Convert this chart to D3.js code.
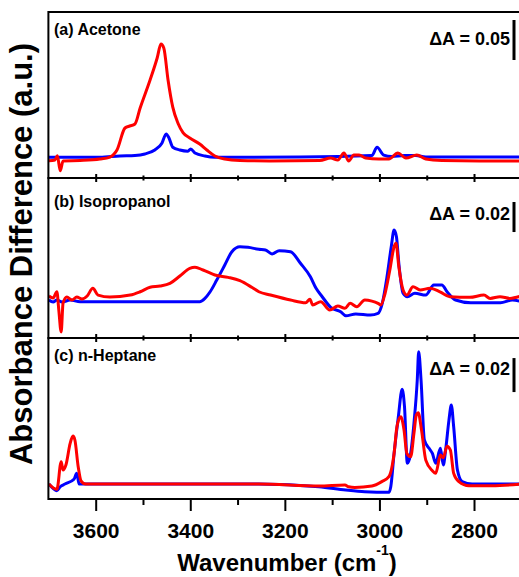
<!DOCTYPE html>
<html>
<head>
<meta charset="utf-8" />
<title>Absorbance difference spectra</title>
<script src="https://d3js.org/d3.v7.min.js"></script>
<style>
  body, html {
    margin: 0;
    background: #ffffff;
  }
  svg text {
    font-family: 'Liberation Sans', Arial, sans-serif;
    font-weight: bold;
    fill: #000;
  }
</style>
</head>
<body>
<svg id="viz" width="519" height="577"></svg>

<script>

// wavenumber (cm-1), absorbance difference
var acetoneBlue = [[3699,0.0034],[3591,0.0034],[3549,0.005],[3517,0.0056],[3496,0.0075],[3475,0.0125],
  [3460,0.021],[3451,0.0325],[3445,0.0275],[3437,0.016],[3422,0.0125],[3405,0.011],[3399,0.0138],
  [3390,0.0088],[3369,0.005],[3348,0.0034],[3168,0.0037],[3016,0.0056],[3005,0.016],[2991,0.0062],
  [2974,0.0044],[2947,0.0056],[2923,0.0056],[2902,0.0037],[2700,0.0037]];
var acetoneRed = [[3699,-0.001],[3686,0],[3681,0.0054],[3675,-0.0134],[3669,-0.0012],[3633,-0.0006],
  [3591,0.0012],[3570,0.0037],[3555,0.0125],[3538,0.04],[3528,0.0425],[3517,0.045],[3506,0.065],
  [3485,0.10],[3470,0.1275],[3462,0.145],[3456,0.14],[3447,0.10],[3437,0.066],[3426,0.046],
  [3415,0.034],[3401,0.0275],[3380,0.02],[3365,0.0125],[3348,0.005],[3327,0.0012],[3295,-0.0006],
  [3232,-0.0012],[3126,-0.0006],[3103,0.0025],[3088,0],[3075,0.0088],[3065,-0.0012],[3054,0.0062],
  [3043,0.0062],[3029,0.0025],[3001,0.0012],[2980,0.0012],[2961,0.0088],[2944,0.0025],[2921,0.0062],
  [2902,0.0012],[2868,-0.0006],[2788,-0.0012],[2700,-0.0012]];

var isopropanolBlue = [[3699,0],[3690,-0.0013],[3682,0],[3671,-0.0013],[3654,0],[3633,-0.0011],
  [3591,-0.0011],[3380,-0.0011],[3369,0.0011],[3358,0.0055],[3344,0.0133],[3327,0.0233],[3312,0.0322],
  [3295,0.0355],[3278,0.0351],[3255,0.0338],[3241,0.0333],[3227,0.0307],[3212,0.0329],[3188,0.0322],
  [3167,0.0245],[3146,0.0155],[3134,0.0078],[3121,0.0022],[3103,-0.0049],[3082,-0.0078],[3071,-0.0105],
  [3050,-0.0093],[3019,-0.01],[3003,-0.0089],[2994,-0.0022],[2984,0.0155],[2975,0.0355],[2969,0.0467],
  [2964,0.0422],[2959,0.0245],[2950,0.0045],[2941,0.0022],[2925,0.0045],[2902,0.0033],[2885,0.01],
  [2868,0.01],[2857,0.0055],[2839,0],[2807,-0.0018],[2744,-0.0018],[2719,0],[2700,-0.0011]];
var isopropanolRed = [[3699,0.0027],[3690,0.0013],[3682,0.0055],[3678,-0.0067],[3673,-0.0213],
  [3669,-0.002],[3661,0.002],[3650,0],[3640,0.002],[3629,0.0007],[3618,0.0027],[3606,0.0078],
  [3595,0.0033],[3570,0.002],[3527,0.0033],[3506,0.0055],[3485,0.0085],[3464,0.0093],[3443,0.0111],
  [3422,0.016],[3401,0.0211],[3390,0.0218],[3373,0.02],[3348,0.0167],[3320,0.0151],[3295,0.0129],
  [3270,0.0085],[3255,0.0055],[3230,0.0033],[3188,0],[3156,-0.0018],[3147,0.0005],[3141,-0.0033],
  [3124,-0.0011],[3105,-0.0067],[3088,-0.004],[3073,-0.0055],[3062,-0.0022],[3048,-0.0045],[3031,0],
  [3016,-0.0007],[3003,-0.0022],[2997,-0.0033],[2988,0.0045],[2978,0.02],[2969,0.0355],[2965,0.0378],
  [2959,0.0222],[2950,0.0067],[2942,0.0033],[2929,0.0089],[2914,0.0067],[2893,0.0078],[2872,0.0055],
  [2851,0.0022],[2809,0.0018],[2779,0.0033],[2766,0.0011],[2745,0.0022],[2724,0.0011],[2700,0.0027]];

var heptaneBlue = [[3699,0],[3682,-0.0039],[3675,-0.0016],[3665,0],[3646,0.0028],[3640,0.0063],
  [3635,0],[3380,0],[3255,0],[3128,-0.0016],[3071,-0.0035],[3031,-0.0045],[2980,-0.0049],[2976,-0.0016],
  [2969,0.018],[2960,0.0396],[2952,0.0557],[2947,0.0455],[2941,0.0122],[2934,0.018],[2927,0.0357],
  [2920,0.0612],[2917,0.0778],[2912,0.0612],[2905,0.0259],[2895,0.021],[2888,0.018],[2881,0.0122],
  [2871,0.021],[2865,0.0112],[2860,0.02],[2853,0.0376],[2848,0.0465],[2843,0.0337],[2835,0.0082],
  [2825,0.0014],[2804,0],[2700,0]];
var heptaneRed = [[3699,0],[3682,-0.0031],[3673,0.0131],[3669,0.0082],[3663,0.0112],[3654,0.0239],
  [3648,0.0282],[3644,0.0259],[3637,0.0102],[3631,0.0019],[3621,0],[3380,0],[3255,0],[3128,-0.0012],
  [3073,-0.0006],[3065,-0.0016],[3052,-0.002],[3016,-0.0012],[2995,0.0014],[2980,0.0043],[2969,0.018],
  [2963,0.0337],[2955,0.0396],[2948,0.0318],[2942,0.018],[2934,0.0161],[2927,0.0298],[2922,0.0406],
  [2918,0.0419],[2911,0.0318],[2902,0.0141],[2888,0.0078],[2881,0.0063],[2871,0.0171],[2865,0.0155],
  [2857,0.0223],[2850,0.02],[2843,0.0063],[2832,0.0014],[2811,-0.001],[2762,-0.001],[2700,0]];

var panelLabels = ["(a) Acetone", "(b) Isopropanol", "(c) n-Heptane"];
var scaleLabels = ["\u0394A = 0.05", "\u0394A = 0.02", "\u0394A = 0.02"];
var scaleValues = [0.05, 0.02, 0.02];
var scaleTops = [0.175, 0.0653, 0.0741];
var yDomains = [[-0.0225, 0.185], [-0.0253, 0.0813], [-0.0088, 0.0859]];

var majorTicks = [3600, 3400, 3200, 3000, 2800];
var minorTicks = [3500, 3300, 3100, 2900, 2700];

var blueColor = "#0000ff",
  redColor = "#ff0000";

var panels = [
  { top: 12, bottom: 178, blue: acetoneBlue, red: acetoneRed, labelY: 35, scaleY: 45 },
  { top: 178, bottom: 338, blue: isopropanolBlue, red: isopropanolRed, labelY: 207, scaleY: 220 },
  { top: 338, bottom: 499, blue: heptaneBlue, red: heptaneRed, labelY: 361, scaleY: 375 }
];

var left = 48.4, right = 521.3;

var svg = d3.select("#viz");

var xScale = d3.scaleLinear()
  .domain([3700, 2700])
  .range([left, right]);

panels.forEach(function(p, i) {
  var yScale = d3.scaleLinear()
    .domain(yDomains[i])
    .range([p.bottom, p.top]);

  var g = svg.append("g");

  g.append("clipPath")
    .attr("id", "clip" + i)
    .append("rect")
    .attr("x", left).attr("y", p.top)
    .attr("width", right - left).attr("height", p.bottom - p.top);

  var line = d3.line()
    .x(function(d) { return xScale(d[0]); })
    .y(function(d) { return yScale(d[1]); })
    .curve(d3.curveMonotoneX);

  g.append("path")
    .datum(p.blue)
    .attr("clip-path", "url(#clip" + i + ")")
    .attr("fill", "none")
    .attr("stroke", blueColor)
    .attr("stroke-width", 3)
    .attr("stroke-linejoin", "round")
    .attr("d", line);

  g.append("path")
    .datum(p.red)
    .attr("clip-path", "url(#clip" + i + ")")
    .attr("fill", "none")
    .attr("stroke", redColor)
    .attr("stroke-width", 3)
    .attr("stroke-linejoin", "round")
    .attr("d", line);

  // frame
  g.append("rect")
    .attr("x", left).attr("y", p.top)
    .attr("width", right - left).attr("height", p.bottom - p.top)
    .attr("fill", "none")
    .attr("stroke", "#000")
    .attr("stroke-width", 2);

  g.append("text")
    .attr("x", 54)
    .attr("y", p.labelY)
    .attr("font-size", 16)
    .text(panelLabels[i]);

  g.append("text")
    .attr("x", 510)
    .attr("y", p.scaleY)
    .attr("font-size", 18)
    .attr("text-anchor", "end")
    .text(scaleLabels[i]);

  g.append("line")
    .attr("x1", 514).attr("x2", 514)
    .attr("y1", yScale(scaleTops[i]))
    .attr("y2", yScale(scaleTops[i] - scaleValues[i]))
    .attr("stroke", "#000")
    .attr("stroke-width", 3);

  if (i < panels.length - 1) {
    // ticks crossing the shared border
    var inner = g.append("g")
      .attr("transform", "translate(0," + (p.bottom - 4) + ")")
      .call(d3.axisBottom(xScale).tickValues(majorTicks).tickSize(8).tickFormat(""));
    inner.select(".domain").remove();
    inner.selectAll("line").attr("stroke-width", 2);

    var innerMinor = g.append("g")
      .attr("transform", "translate(0," + (p.bottom - 2.5) + ")")
      .call(d3.axisBottom(xScale).tickValues(minorTicks).tickSize(5).tickFormat(""));
    innerMinor.select(".domain").remove();
    innerMinor.selectAll("line").attr("stroke-width", 2);
  } else {
    var bottomAxis = g.append("g")
      .attr("transform", "translate(0," + p.bottom + ")")
      .call(d3.axisBottom(xScale).tickValues(majorTicks).tickSize(12).tickPadding(12)
        .tickFormat(d3.format("d")));
    bottomAxis.select(".domain").remove();
    bottomAxis.selectAll("line").attr("stroke-width", 2);
    bottomAxis.selectAll("text")
      .attr("font-size", 21)
      .style("font-family", "'Liberation Sans', Arial, sans-serif")
      .style("font-weight", "bold");

    var bottomMinor = g.append("g")
      .attr("transform", "translate(0," + p.bottom + ")")
      .call(d3.axisBottom(xScale).tickValues(minorTicks).tickSize(6).tickFormat(""));
    bottomMinor.select(".domain").remove();
    bottomMinor.selectAll("line").attr("stroke-width", 2);
  }
});

// axis titles
var xTitle = svg.append("text")
  .attr("x", 287)
  .attr("y", 571)
  .attr("font-size", 24)
  .attr("text-anchor", "middle");
xTitle.append("tspan").text("Wavenumber (cm");
xTitle.append("tspan").attr("font-size", 14).attr("dy", -16).text("-1");
xTitle.append("tspan").attr("dy", 16).text(")");

svg.append("text")
  .attr("transform", "translate(32,254) rotate(-90)")
  .attr("font-size", 31)
  .attr("text-anchor", "middle")
  .text("Absorbance Difference (a.u.)");

</script>
</body>
</html>
